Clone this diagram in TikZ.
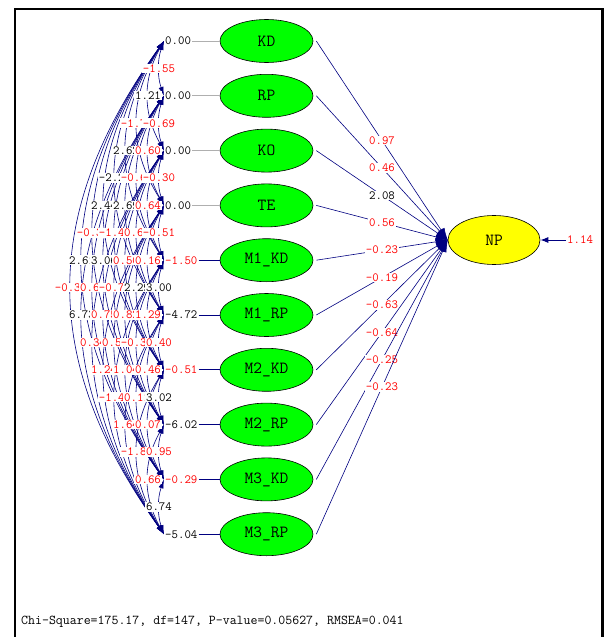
\documentclass[tikz,border=0pt]{standalone}
\usepackage{fontspec}
\usetikzlibrary{arrows.meta,shapes.geometric}
\definecolor{navyb}{RGB}{0,0,128}
\definecolor{lgreen}{RGB}{0,255,0}
\definecolor{lyellow}{RGB}{255,255,0}
\definecolor{lgray}{RGB}{175,175,175}
\def\covlist{0/1/-1.55/red, 0/2/1.21/black, 0/3/-1.78/red, 1/2/-0.69/red,
 0/4/2.62/black, 1/3/0.60/red, 0/5/-2.27/black, 1/4/-0.68/red, 2/3/-0.30/red,
 0/6/2.44/black, 1/5/2.69/black, 2/4/0.64/red, 0/7/-0.31/red, 1/6/-1.43/red,
 2/5/0.61/red, 3/4/-0.51/red, 0/8/2.61/black, 1/7/3.06/black, 2/6/0.50/red,
 3/5/0.16/red, 0/9/-0.34/red, 1/8/0.69/red, 2/7/-0.71/red, 3/6/2.29/black,
 4/5/3.00/black, 1/9/6.73/black, 2/8/0.75/red, 3/7/0.82/red, 4/6/1.29/red,
 2/9/0.34/red, 3/8/0.56/red, 4/7/-0.39/red, 5/6/0.40/red, 3/9/1.24/red,
 4/8/1.04/red, 5/7/0.46/red, 4/9/-1.44/red, 5/8/0.11/red, 6/7/3.02/black,
 5/9/1.64/red, 6/8/0.07/red, 6/9/-1.82/red, 7/8/0.95/red, 7/9/0.66/red,
 8/9/6.74/black}
\begin{document}
\begin{tikzpicture}[x=1pt,y=-1pt,
  ov/.style={ellipse, draw=black, line width=0.6pt, fill=lgreen,
    minimum width=93pt, minimum height=43pt, inner sep=0pt,
    font=\ttfamily\fontsize{17}{17}\selectfont},
  val/.style={inner sep=1pt, font=\ttfamily\fontsize{12.5}{13}\selectfont},
  lab/.style={fill=white, inner sep=0.8pt, font=\ttfamily\fontsize{12.5}{13}\selectfont},
  cov/.style={navyb, line width=0.6pt,
    {Latex[length=9pt,width=5pt]}-{Latex[length=9pt,width=5pt]}},
  reg/.style={navyb, line width=0.6pt, -{Latex[length=12pt,width=8pt]}}]
\useasboundingbox (0,0) rectangle (604,637);
% frame
\draw[line width=2.5pt] (15,637) -- (15,9) -- (602.5,9) -- (602.5,637);
% exogenous latent variables
\foreach \t/\v/\c/\lc [count=\k from 0] in {
  KD/0.00/black/lgray, RP/0.00/black/lgray, KO/0.00/black/lgray, TE/0.00/black/lgray,
  M1\_KD/-1.50/red/navyb, M1\_RP/-4.72/black/navyb, M2\_KD/-0.51/red/navyb,
  M2\_RP/-6.02/black/navyb, M3\_KD/-0.29/red/navyb, M3\_RP/-5.04/black/navyb}{
  \node[ov] (o\k) at (266.5,{41+54.8*\k}) {\t};
  \node[val, anchor=west, text=\c] (v\k) at (164,{41+54.8*\k}) {\v};
  \draw[\lc, line width=0.8pt] (v\k.east) -- (o\k.west);
}
% covariance arcs
\foreach \i/\j/\v/\c in \covlist {
  \pgfmathsetmacro\dx{4*(6-11*(\j-\i))/3}
  \pgfmathsetmacro\hh{0.35*54.8*(\j-\i)}
  \draw[cov] (v\i.west) .. controls +(\dx,\hh) and +(\dx,-\hh) .. (v\j.west)
    coordinate[pos=0.5] (m\i\j);
}
\foreach \i/\j/\v/\c in \covlist {
  \node[lab, text=\c] (L\i\j) at (m\i\j) {\v};
}
% endogenous variable
\node[ellipse, draw=black, line width=0.6pt, fill=lyellow, minimum width=92pt,
  minimum height=49pt, inner sep=0pt, font=\ttfamily\fontsize{17}{17}\selectfont]
  (NP) at (494,240) {NP};
\foreach \k/\v/\c in {0/0.97/red, 1/0.46/red, 2/2.08/black, 3/0.56/red,
  4/-0.23/red, 5/-0.19/red, 6/-0.63/red, 7/-0.64/red, 8/-0.25/red, 9/-0.23/red}{
  \draw[reg] ([xshift=3pt]o\k.east) -- (NP.west) node[lab, pos=0.5, text=\c] (g\k) {\v};
}
% error term
\node[val, anchor=west, text=red] (e) at (566,240) {1.14};
\draw[navyb, line width=1pt, -{Latex[length=8pt,width=6pt]}] (e.west) -- (NP.east);
% fit statistics
\node[anchor=base west, inner sep=0pt, font=\ttfamily\fontsize{13.5}{14}\selectfont]
  (fit) at (21,624) {Chi-Square=175.17, df=147, P-value=0.05627, RMSEA=0.041};
\end{tikzpicture}
\end{document}
